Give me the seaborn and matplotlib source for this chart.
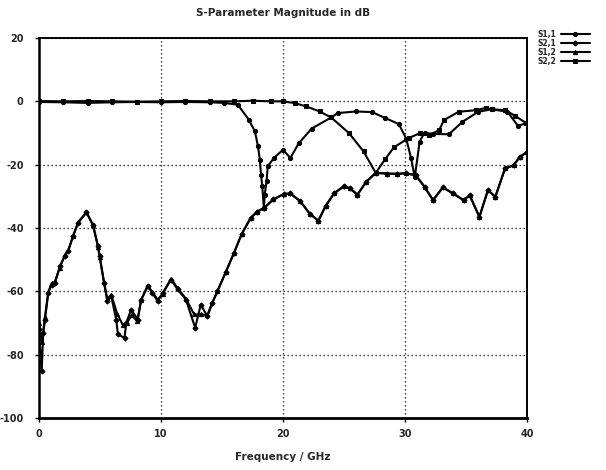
import matplotlib
matplotlib.use("Agg")
import matplotlib.pyplot as plt
import seaborn as sns

# S1,1 reflection (circles)
f11 = [0, 2, 4, 6, 8, 10, 12, 14, 15.2, 16.3, 17.2, 17.7, 17.95, 18.1, 18.2, 18.3,
       18.43, 18.5, 18.65, 18.75, 19.25, 20.0, 20.6, 21.3, 22.35, 23.95, 24.5, 26.0,
       27.3, 28.4, 29.5, 30.1, 30.5, 30.8, 31.2, 31.6, 32.3, 33.6, 34.7, 36.0, 37.1,
       38.4, 39.25, 39.9]
s11 = [-0.2, -0.3, -0.5, -0.3, -0.2, -0.3, -0.2, -0.3, -0.5, -1.1, -5.8, -9.5, -14.2,
       -18.4, -23.2, -26.8, -33.7, -29.5, -25.3, -20.5, -17.9, -15.3, -17.9, -13.2,
       -8.6, -5.1, -3.7, -3.2, -3.4, -5.3, -7.2, -11.8, -18.0, -24.0, -12.7, -9.9,
       -10.3, -10.4, -6.5, -3.3, -2.5, -3.3, -7.7, -7.0]

# S2,1 transmission (diamonds)
f21 = [0, 0.22, 0.35, 0.49, 0.76, 1.03, 1.3, 1.71, 2.12, 2.39, 2.8, 3.2, 3.89, 4.43,
       4.84, 4.97, 5.33, 5.6, 5.92, 6.33, 6.47, 7.01, 7.15, 7.55, 8.1, 8.37, 8.91, 9.3,
       9.73, 10.14, 10.82, 11.36, 12.04, 12.8, 13.26, 13.8, 14.21, 14.62, 15.3, 15.98,
       16.6, 17.34, 17.88, 18.44, 19.2, 20.05, 20.6, 21.4, 22.2, 22.9, 23.5, 24.2, 25.0,
       25.5, 26.1, 26.8, 27.6, 28.5, 29.33, 30.1, 30.9, 31.6, 32.3, 33.1, 33.9, 34.8,
       35.3, 36.1, 36.8, 37.4, 38.2, 38.9, 39.4, 40.0]
s21 = [-72, -85.2, -73.1, -68.9, -60.5, -57.9, -57.4, -52.1, -48.7, -47.4, -42.4,
       -38.4, -35.1, -39.0, -45.8, -48.9, -57.4, -63.1, -61.6, -68.9, -73.6, -74.7,
       -70.0, -65.8, -68.9, -62.6, -58.4, -60.5, -63.1, -60.5, -56.3, -59.4, -62.6,
       -71.5, -64.2, -67.9, -63.7, -60.0, -54.0, -47.9, -42.0, -36.9, -34.8, -33.7,
       -31.0, -29.3, -29.1, -31.5, -35.5, -37.7, -33.0, -29.0, -26.8, -27.5, -29.5,
       -25.5, -22.6, -22.8, -22.9, -22.7, -23.4, -27.0, -31.2, -27.2, -29.0, -31.2,
       -29.7, -36.5, -28.0, -30.2, -21.2, -20.2, -17.6, -16.0]

# S1,2 transmission (triangles)
f12 = [0, 0.25, 0.49, 0.76, 1.03, 1.3, 1.71, 2.12, 2.39, 2.8, 3.2, 3.89, 4.43, 4.84,
       4.97, 5.33, 5.6, 5.92, 6.4, 6.85, 7.2, 7.6, 8.05, 8.37, 8.91, 9.3, 9.73, 10.14,
       10.82, 11.36, 12.04, 12.72, 13.3, 13.8, 14.21, 14.62, 15.3, 15.98, 16.6, 17.34,
       17.88, 18.44, 19.2, 20.05, 20.6, 21.4, 22.2, 22.9, 23.5, 24.2, 25.0, 25.5, 26.1,
       26.8, 27.6, 28.5, 29.33, 30.1, 30.9, 31.6, 32.3, 33.1, 33.9, 34.8, 35.3, 36.1,
       36.8, 37.4, 38.2, 38.9, 39.4, 40.0]
s12 = [-70, -76, -68, -60.2, -57.5, -57.0, -52.5, -48.5, -47.0, -42.6, -38.2, -35.0,
       -39.2, -46.0, -49.0, -57.0, -62.5, -61.0, -67.0, -70.5, -70.0, -67.5, -69.5,
       -62.8, -58.2, -60.3, -62.6, -60.8, -56.0, -59.0, -62.3, -67.3, -67.3, -67.5,
       -63.5, -60.0, -54.0, -47.9, -42.0, -36.9, -34.8, -33.7, -31.0, -29.3, -29.1,
       -31.5, -35.5, -37.7, -33.0, -29.0, -26.8, -27.5, -29.5, -25.5, -22.6, -22.8,
       -22.9, -22.7, -23.4, -27.0, -31.2, -27.2, -29.0, -31.2, -29.7, -36.5, -28.0,
       -30.2, -21.2, -20.2, -17.6, -16.0]

# S2,2 reflection (squares)
f22 = [0, 2, 4, 6, 8, 10, 12, 14, 16, 17.5, 19, 20, 21.0, 21.9, 23.0, 23.95, 25.4,
       26.6, 27.6, 28.4, 29.1, 30.3, 31.2, 32.0, 32.8, 33.2, 34.4, 35.8, 36.6, 37.1,
       38.2, 39.0, 39.9]
s22 = [0.1, 0.0, 0.1, 0.0, -0.1, 0.0, 0.1, 0.0, 0.0, 0.2, 0.0, 0.0, -0.6, -1.6, -3.2,
       -5.1, -10.0, -15.8, -22.6, -18.1, -14.5, -11.6, -10.1, -10.6, -9.1, -5.9, -3.3,
       -2.8, -2.1, -2.5, -2.8, -4.5, -6.8]

series_names = ["S1,1", "S2,1", "S1,2", "S2,2"]
x_ticks = [0, 10, 20, 30, 40]
y_ticks = [20, 0, -20, -40, -60, -80, -100]

sns.set_style("white")
plt.rcParams["font.family"] = ["DejaVu Sans"]
plt.rcParams["font.weight"] = "bold"

fig = plt.figure(figsize=(6.06, 4.70), dpi=100)
ax = fig.add_axes([39 / 606, 1 - 418 / 470, 488 / 606, 380 / 470])

series = [(f11, s11, "o", 3.0), (f21, s21, "D", 2.6),
          (f12, s12, "^", 3.0), (f22, s22, "s", 3.0)]
for (fx, sy, mk, ms), name in zip(series, series_names):
    sns.lineplot(x=fx, y=sy, ax=ax, color="black", marker=mk, markersize=ms,
                 markeredgecolor="black", markerfacecolor="black", linewidth=1.5,
                 sort=False, estimator=None, label=name)

ax.set_xlim(0, 40)
ax.set_ylim(-100, 20)
ax.set_xticks(x_ticks)
ax.set_yticks(y_ticks)
ax.set_xticklabels([str(v) for v in x_ticks], fontsize=7, fontweight="bold")
ax.set_yticklabels([str(v) for v in y_ticks], fontsize=7, fontweight="bold")
ax.tick_params(axis="both", direction="out", length=3, width=1, color="black",
               left=True, bottom=True)
ax.tick_params(axis="y", pad=8)
ax.tick_params(axis="x", pad=5)

ax.grid(True, color="black", linestyle=(0, (1, 2.2)), linewidth=0.9)
for side in ax.spines.values():
    side.set_visible(True)
    side.set_color("black")
    side.set_linewidth(1.4)
ax.spines["bottom"].set_linewidth(2.0)
ax.spines["left"].set_linewidth(1.8)

ax.set_title("S-Parameter Magnitude in dB", fontsize=7.5, fontweight="bold",
             y=1.066, va="center", pad=0)
ax.set_xlabel("Frequency / GHz", fontsize=7.5, fontweight="bold")
ax.xaxis.set_label_coords(0.5, -0.103)
ax.xaxis.label.set_va("center")
ax.set_ylabel("")

handles, labels = ax.get_legend_handles_labels()
ax.legend(handles, labels, loc="upper left", bbox_to_anchor=(538 / 606, 1 - 30 / 470),
          bbox_transform=fig.transFigure, frameon=False, fontsize=5.5,
          markerfirst=False, handlelength=3.8, handletextpad=0.5, labelspacing=0.0,
          borderpad=0, borderaxespad=0)

fig.savefig("out.png", dpi=100)
